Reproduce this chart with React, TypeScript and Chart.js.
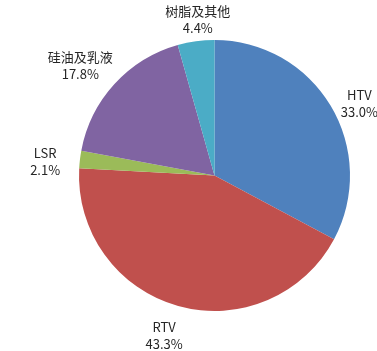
import React, { useEffect, useRef } from "react";
import { Chart, registerables } from "chart.js";

Chart.register(...registerables);

const categories = ["HTV", "RTV", "LSR", "硅油及乳液", "树脂及其他"];
const shares = [33.0, 43.3, 2.1, 17.8, 4.4];
const percentLabels = ["33.0%", "43.3%", "2.1%", "17.8%", "4.4%"];
const colors = ["#4F81BD", "#C0504D", "#9BBB59", "#8064A2", "#4BACC6"];

const FONT = '13px "Noto Sans CJK SC", "Noto Sans", sans-serif';

const labelPlugin = {
  id: "outsideLabels",
  afterDatasetsDraw(chart: any, _args: any, opts: any) {
    const ctx = chart.ctx;
    const meta = chart.getDatasetMeta(0);
    const nudges = opts.nudges || [];
    ctx.save();
    ctx.font = FONT;
    ctx.fillStyle = "#262626";
    ctx.textAlign = "center";
    ctx.textBaseline = "middle";
    meta.data.forEach((arc: any, i: number) => {
      const { x, y, startAngle, endAngle, outerRadius } = arc.getProps(
        ["x", "y", "startAngle", "endAngle", "outerRadius"],
        true
      );
      const mid = (startAngle + endAngle) / 2;
      const d = outerRadius + 30;
      const n = nudges[i] || [0, 0];
      const cx = x + Math.cos(mid) * d + n[0];
      const cy = y + Math.sin(mid) * d + n[1];
      ctx.fillText(categories[i], cx, cy - 8);
      ctx.fillText(percentLabels[i], cx, cy + 9);
    });
    ctx.restore();
  },
};

export default function App() {
  const ref = useRef<HTMLCanvasElement>(null);
  useEffect(() => {
    if (!ref.current) return;
    const chart = new Chart(ref.current, {
      type: "pie",
      data: {
        labels: categories,
        datasets: [
          {
            data: shares,
            backgroundColor: colors,
            borderWidth: 0,
          },
        ],
      },
      options: {
        animation: false,
        responsive: false,
        layout: { padding: { left: 79, right: 27, top: 40, bottom: 40 } },
        plugins: {
          legend: { display: false },
          tooltip: { enabled: false },
          outsideLabels: {
            nudges: [
              [3, 13],
              [-6, 0],
              [-5, 5],
              [-12, 1],
              [6, 8],
            ],
          },
        } as any,
      },
      plugins: [labelPlugin],
    });
    return () => chart.destroy();
  }, []);
  return (
    <div style={{ position: "fixed", left: 0, top: 0, width: 377, height: 351, background: "#fff" }}>
      <canvas ref={ref} width={377} height={351} style={{ width: 377, height: 351 }} />
    </div>
  );
}
